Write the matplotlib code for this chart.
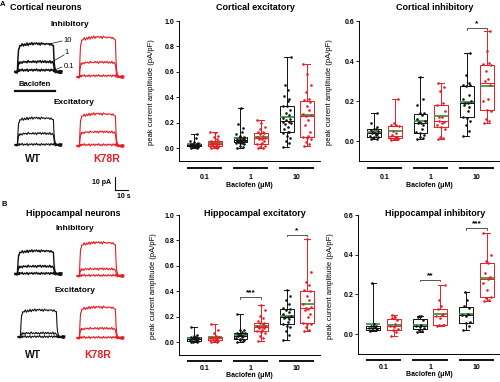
import numpy as np
import matplotlib
matplotlib.use('Agg')
import matplotlib.pyplot as plt
from matplotlib.transforms import blended_transform_factory

plt.rcParams['font.family'] = ['Liberation Sans', 'DejaVu Sans']

# ---------------- data ----------------
doses = ['0.1', '1', '10']
genotypes = ['WT', 'K78R']

# Cortical excitatory (pA/pF)
ce_wt = [
    [0.00, 0.005, 0.01, 0.01, 0.012, 0.015, 0.015, 0.018, 0.02, 0.02, 0.02, 0.022, 0.025, 0.025, 0.028, 0.03, 0.03, 0.032, 0.035, 0.04, 0.05, 0.06, 0.08, 0.11],
    [0.0, 0.01, 0.02, 0.03, 0.04, 0.04, 0.045, 0.05, 0.05, 0.055, 0.06, 0.06, 0.06, 0.065, 0.07, 0.07, 0.075, 0.08, 0.085, 0.09, 0.1, 0.11, 0.13, 0.16, 0.19, 0.32],
    [0.01, 0.04, 0.06, 0.08, 0.10, 0.12, 0.125, 0.13, 0.15, 0.17, 0.19, 0.20, 0.21, 0.21, 0.22, 0.23, 0.24, 0.26, 0.28, 0.30, 0.33, 0.33, 0.37, 0.39, 0.41, 0.46, 0.50, 0.72],
]
ce_k = [
    [0.0, 0.005, 0.01, 0.01, 0.012, 0.015, 0.02, 0.02, 0.025, 0.03, 0.03, 0.035, 0.04, 0.045, 0.05, 0.06, 0.06, 0.07, 0.09, 0.1, 0.12, 0.13],
    [0.0, 0.005, 0.01, 0.02, 0.03, 0.033, 0.04, 0.06, 0.07, 0.075, 0.078, 0.08, 0.09, 0.1, 0.11, 0.12, 0.124, 0.13, 0.15, 0.17, 0.2, 0.22],
    [0.02, 0.03, 0.05, 0.07, 0.08, 0.09, 0.10, 0.13, 0.18, 0.22, 0.25, 0.26, 0.27, 0.30, 0.33, 0.36, 0.38, 0.39, 0.44, 0.50, 0.58, 0.66],
]
# Cortical inhibitory
ci_wt = [
    [0.01, 0.012, 0.015, 0.018, 0.02, 0.025, 0.03, 0.035, 0.04, 0.04, 0.045, 0.05, 0.055, 0.06, 0.06, 0.07, 0.09, 0.14],
    [0.01, 0.015, 0.02, 0.03, 0.04, 0.045, 0.06, 0.08, 0.09, 0.09, 0.095, 0.1, 0.11, 0.13, 0.14, 0.14, 0.18, 0.21, 0.32],
    [0.023, 0.05, 0.08, 0.1, 0.115, 0.12, 0.15, 0.17, 0.18, 0.19, 0.19, 0.2, 0.21, 0.23, 0.275, 0.28, 0.28, 0.29, 0.33, 0.44],
]
ci_k = [
    [0.005, 0.01, 0.01, 0.012, 0.015, 0.015, 0.02, 0.02, 0.03, 0.04, 0.05, 0.076, 0.078, 0.08, 0.09, 0.21],
    [0.01, 0.015, 0.02, 0.06, 0.07, 0.08, 0.09, 0.095, 0.1, 0.12, 0.12, 0.15, 0.18, 0.19, 0.25, 0.27, 0.29],
    [0.089, 0.1, 0.11, 0.15, 0.155, 0.2, 0.21, 0.28, 0.30, 0.31, 0.35, 0.38, 0.385, 0.39, 0.45, 0.55],
]
# Hippocampal excitatory
he_wt = [
    [0.0, 0.0, 0.005, 0.01, 0.01, 0.015, 0.02, 0.02, 0.025, 0.03, 0.03, 0.035, 0.04, 0.04, 0.05, 0.06, 0.12],
    [0.0, 0.01, 0.02, 0.02, 0.025, 0.03, 0.04, 0.05, 0.05, 0.06, 0.065, 0.07, 0.07, 0.08, 0.1, 0.1, 0.22],
    [0.02, 0.06, 0.09, 0.12, 0.13, 0.14, 0.16, 0.18, 0.19, 0.2, 0.2, 0.21, 0.22, 0.24, 0.25, 0.26, 0.27, 0.3, 0.33, 0.36, 0.41],
]
he_k = [
    [0.0, 0.005, 0.01, 0.01, 0.015, 0.02, 0.02, 0.025, 0.03, 0.03, 0.035, 0.04, 0.04, 0.05, 0.07, 0.1, 0.14],
    [0.01, 0.03, 0.05, 0.07, 0.08, 0.09, 0.1, 0.11, 0.115, 0.12, 0.12, 0.125, 0.13, 0.14, 0.15, 0.15, 0.17, 0.19, 0.21, 0.25, 0.29],
    [0.086, 0.1, 0.12, 0.14, 0.145, 0.15, 0.2, 0.22, 0.25, 0.26, 0.27, 0.28, 0.3, 0.33, 0.36, 0.4, 0.41, 0.45, 0.47, 0.55, 0.81],
]
# Hippocampal inhibitory
hi_wt = [
    [0.018, 0.02, 0.02, 0.025, 0.03, 0.03, 0.035, 0.04, 0.04, 0.05, 0.26],
    [0.01, 0.015, 0.02, 0.03, 0.035, 0.04, 0.045, 0.07, 0.085, 0.09, 0.09],
    [0.023, 0.04, 0.055, 0.06, 0.09, 0.095, 0.1, 0.13, 0.14, 0.17, 0.21],
]
hi_k = [
    [-0.01, 0.01, 0.02, 0.025, 0.035, 0.04, 0.05, 0.07, 0.08, 0.085, 0.097],
    [0.04, 0.045, 0.046, 0.048, 0.08, 0.09, 0.095, 0.1, 0.125, 0.14, 0.17, 0.25],
    [0.168, 0.17, 0.18, 0.185, 0.22, 0.26, 0.28, 0.29, 0.31, 0.36, 0.37, 0.4, 0.51],
]

# significance marks: (dose index, label)
ci_sig = [(2, '*')]
he_sig = [(1, '***'), (2, '*')]
hi_sig = [(1, '**'), (2, '***')]
ci_sig_y = [0.565]
he_sig_y = [0.355, 0.845]
hi_sig_y = [0.275, 0.533]

# example traces: peak amplitude (pA) for 0.1, 1, 10 uM baclofen
ctx_inh_wt_amp = [1.5, 8, 22]
ctx_inh_k_amp = [1.0, 11.5, 31]
ctx_exc_wt_amp = [0.5, 9, 21]
ctx_exc_k_amp = [1.0, 11, 25]
hip_inh_wt_amp = [0.5, 6, 18]
hip_inh_k_amp = [0.5, 5.5, 26]
hip_exc_wt_amp = [0.3, 3, 21]
hip_exc_k_amp = [0.5, 7.5, 24]

# normalized current time course (s, fraction of peak)
tmpl_t = [0, 1, 2, 2.5, 3, 3.5, 4, 5, 6, 7, 8, 9, 10, 11, 12, 13, 14, 15, 16, 17, 18, 19,
          20, 21, 22, 23, 24, 25, 26, 27, 28, 29, 30, 31, 32, 32.5, 33, 34, 35, 36, 37, 38, 39]
tmpl_v = [0, 0, 0, 0.5, 0.78, 0.86, 0.9, 0.93, 0.95, 0.94, 0.97, 0.95, 0.98, 0.97, 0.99, 0.97,
          1.0, 0.98, 0.99, 1.0, 0.98, 0.99, 1.0, 0.98, 0.99, 1.0, 0.98, 0.99, 0.97, 0.99, 0.97,
          0.98, 0.96, 0.95, 0.9, 0.45, 0.15, 0.05, 0.02, 0.0, 0.0, 0.0, 0.0]
trace_noise = [0.3, -0.5, 0.6, -0.2, 0.4, -0.7, 0.5, -0.3, 0.7, -0.6, 0.2, -0.4, 0.6, -0.8,
               0.3, -0.2, 0.5, -0.6, 0.4, -0.3, 0.7, -0.5, 0.2, -0.7, 0.6, -0.4, 0.3, -0.6,
               0.5, -0.2, 0.4, -0.7, 0.6, -0.3, 0.5, -0.4, 0.7, -0.6, 0.3, -0.5, 0.8, -0.9, 0.6]

# ---------------- style ----------------
BLACK = '#111111'
RED = '#ec1c24'
GREEN = '#3c9a45'
W, H = 500, 382
fig = plt.figure(figsize=(5, 3.82), dpi=100)


def pbox(l, t, r, b):
    return [l / W, 1 - b / H, (r - l) / W, (b - t) / H]


def ftxt(x, y, s, **kw):
    kw.setdefault('ha', 'center')
    kw.setdefault('va', 'center')
    fig.text(x / W, 1 - y / H, s, **kw)


# ---------------- traces (left column) ----------------
PX_PER_S = 1.2
PX_PER_PA = 1.3
tax = fig.add_axes([0, 0, 1, 1])
tax.set_xlim(0, W / PX_PER_S)
tax.set_ylim(0, H / PX_PER_PA)
tax.axis('off')
tax.patch.set_alpha(0)

t_arr = np.array(tmpl_t)
v_arr = np.array(tmpl_v)
n_arr = np.array(trace_noise)


def draw_traces(x0px, basepx, amps, color, lw):
    x0 = x0px / PX_PER_S
    base = (H - basepx) / PX_PER_PA
    for k, a in enumerate(amps):
        sign = 1 if k % 2 == 0 else -1
        tax.plot(x0 + t_arr, base + a * v_arr + sign * n_arr * 1.2,
                 color=color, lw=lw, solid_joinstyle='round')


draw_traces(15, 72, ctx_inh_wt_amp, BLACK, 1.1)
draw_traces(77, 77, ctx_inh_k_amp, RED, 0.8)
draw_traces(15, 145, ctx_exc_wt_amp, BLACK, 0.8)
draw_traces(77, 146, ctx_exc_k_amp, RED, 0.8)
draw_traces(15, 274, hip_inh_wt_amp, BLACK, 1.0)
draw_traces(77, 276, hip_inh_k_amp, RED, 0.8)
draw_traces(18, 337, hip_exc_wt_amp, BLACK, 0.8)
draw_traces(77, 338, hip_exc_k_amp, RED, 0.8)

# dose labels with leader lines
def pxline(x1, y1, x2, y2, **kw):
    tax.plot([x1 / PX_PER_S, x2 / PX_PER_S], [(H - y1) / PX_PER_PA, (H - y2) / PX_PER_PA], **kw)

pxline(49, 44, 62, 41, color=BLACK, lw=0.5)
pxline(50, 63, 64, 55, color=BLACK, lw=0.5)
pxline(55, 70, 62, 67, color=BLACK, lw=0.5)
ftxt(68, 40, doses[2], fontsize=5.5)
ftxt(67, 52, doses[1], fontsize=5.5)
ftxt(69, 66, doses[0], fontsize=5.5)
# baclofen bar
ftxt(35, 85, 'Baclofen', fontsize=5.5, fontweight='bold')
pxline(15, 91, 55, 91, color=BLACK, lw=1.6)
# scale bar
pxline(115, 177, 115, 190, color=BLACK, lw=0.8)
pxline(115, 190, 128, 190, color=BLACK, lw=0.8)
ftxt(111, 183, '10 pA', fontsize=5, fontweight='bold', ha='right')
ftxt(124, 196, '10 s', fontsize=5, fontweight='bold')

# panel texts
ftxt(3, 5, 'A', fontsize=5.5, fontweight='bold')
ftxt(46, 8, 'Cortical neurons', fontsize=6.5, fontweight='bold')
ftxt(70, 24, 'Inhibitory', fontsize=6, fontweight='bold')
ftxt(74, 103, 'Excitatory', fontsize=6, fontweight='bold')
ftxt(33, 159, genotypes[0], fontsize=7.5, fontweight='bold', color=BLACK)
ftxt(107, 159, genotypes[1], fontsize=7.5, fontweight='bold', color=RED)

ftxt(4, 204, 'B', fontsize=5.5, fontweight='bold')
ftxt(73, 213, 'Hippocampal neurons', fontsize=6.5, fontweight='bold')
ftxt(75, 228, 'Inhibitory', fontsize=6, fontweight='bold')
ftxt(75, 291, 'Excitatory', fontsize=6, fontweight='bold')
ftxt(33, 355, genotypes[0], fontsize=7.5, fontweight='bold', color=BLACK)
ftxt(98, 355, genotypes[1], fontsize=7.5, fontweight='bold', color=RED)

# ---------------- box plots ----------------
JIT = [-0.07, 0.05, -0.02, 0.08, 0.0, -0.09, 0.03, 0.06, -0.05, 0.02, -0.03, 0.09, -0.08, 0.04, -0.01, 0.07]
OFF = 0.22


def box_panel(rect, wt, kk, ylim, yticks, title, title_xy, lab_x, under_y, tick_y, xl_y, sig, sig_y):
    ax = fig.add_axes(pbox(*rect))
    for g in range(3):
        for data, color, dx in ((wt[g], BLACK, -OFF), (kk[g], RED, OFF)):
            pos = g + dx
            ax.boxplot([data], positions=[pos], widths=0.3, whis=(0, 100), showfliers=False,
                       showmeans=True, meanline=True, manage_ticks=False, capwidths=0.12,
                       boxprops=dict(color=color, lw=0.7),
                       medianprops=dict(color=color, lw=0.7),
                       whiskerprops=dict(color=color, lw=0.7),
                       capprops=dict(color=color, lw=0.7),
                       meanprops=dict(color=GREEN, lw=1.3, ls='-'))
            jit = np.array([JIT[i % len(JIT)] for i in range(len(data))])
            ax.scatter(pos + jit, data, s=3.5, color=color, lw=0, zorder=3)
    ax.set_xlim(-0.55, 2.5)
    ax.set_ylim(*ylim)
    ax.set_yticks(yticks)
    ax.set_yticklabels(['%.1f' % v for v in yticks], fontweight='bold')
    ax.set_xticks([])
    for s in ('top', 'right'):
        ax.spines[s].set_visible(False)
    for s in ('left', 'bottom'):
        ax.spines[s].set_linewidth(0.7)
    ax.spines['left'].set_bounds(ylim[0], yticks[-1])
    ax.tick_params(axis='y', labelsize=5, width=0.6, length=2, pad=1.5)
    ax.patch.set_alpha(0)
    ax.set_ylabel('peak current amplitude (pA/pF)', fontsize=5.5)
    ax.yaxis.set_label_coords(lab_x, 0.49)
    tr = blended_transform_factory(ax.transData, ax.transAxes)
    for g in range(3):
        ax.plot([g - 0.38, g + 0.38], [under_y, under_y], color=BLACK, lw=1.4,
                transform=tr, clip_on=False, solid_capstyle='butt')
        ax.text(g, tick_y, doses[g], transform=tr, ha='center', va='center',
                fontsize=5, fontweight='bold')
    ax.text(0.5, xl_y, 'Baclofen (\u03bcM)', transform=ax.transAxes, ha='center',
            va='center', fontsize=5, fontweight='bold')
    span = ylim[1] - ylim[0]
    for (g, lab), y in zip(sig, sig_y):
        d = span * 0.012
        ax.plot([g - OFF, g - OFF, g + OFF, g + OFF], [y - d, y, y, y - d], color=BLACK, lw=0.5)
        ax.text(g, y + span * 0.005, lab, ha='center', va='bottom', fontsize=6, fontweight='bold')
    ftxt(title_xy[0], title_xy[1], title, fontsize=6.5, fontweight='bold')
    return ax


box_panel((179, 21, 320, 161), ce_wt, ce_k, (-0.1, 1.0), [0.0, 0.2, 0.4, 0.6, 0.8, 1.0],
          'Cortical excitatory', (255, 7), -0.17, -0.05, -0.115, -0.172, [], [])
box_panel((359, 21, 500, 161), ci_wt, ci_k, (-0.1, 0.6), [0.0, 0.2, 0.4, 0.6],
          'Cortical inhibitory', (435, 7), -0.184, -0.05, -0.115, -0.172, ci_sig, ci_sig_y)
box_panel((179, 215, 320, 355), he_wt, he_k, (-0.1, 1.0), [0.0, 0.2, 0.4, 0.6, 0.8, 1.0],
          'Hippocampal excitatory', (255, 213), -0.156, -0.04, -0.1, -0.145, he_sig, he_sig_y)
box_panel((358, 215, 500, 354), hi_wt, hi_k, (-0.1, 0.6), [0.0, 0.2, 0.4, 0.6],
          'Hippocampal inhibitory', (435, 213), -0.17, -0.045, -0.1, -0.15, hi_sig, hi_sig_y)

fig.savefig('out.png', dpi=100)
